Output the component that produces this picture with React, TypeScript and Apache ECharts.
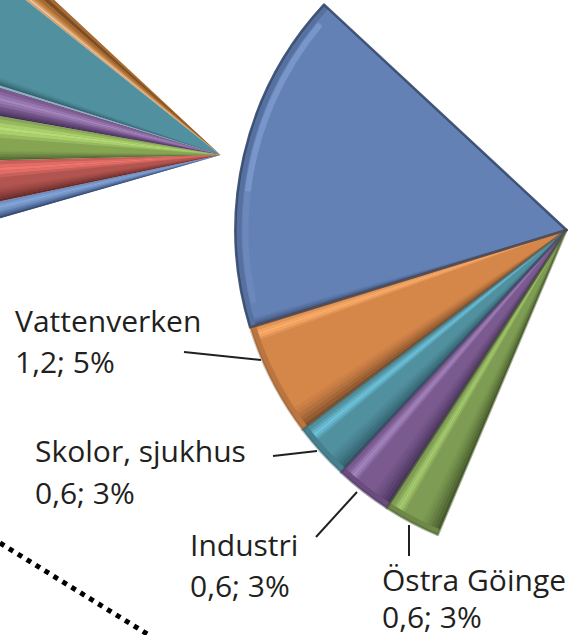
import React, { useEffect, useRef } from "react";
import * as echarts from "echarts";

// Values (the pies are cropped: "rest" is the part outside the picture)
const rightNames = ["Övrigt", "Vattenverken", "Skolor, sjukhus", "Industri", "Östra Göinge"];
const rightValues = [3.6, 1.2, 0.6, 0.6, 0.6];
const rightRest = 15.0;
const leftNames = ["a", "b", "c", "d", "e", "f"];
const leftValues = [0.27, 1.29, 0.42, 0.68, 0.63, 0.25];
const leftRest = 18.06;

const labelLines = [
  ["Vattenverken", "1,2; 5%"],
  ["Skolor, sjukhus", "0,6; 3%"],
  ["Industri", "0,6; 3%"],
  ["Östra Göinge", "0,6; 3%"],
];

const TOTAL = 21.6;
const UNIT = TOTAL / 360;
const TRANSPARENT = "rgba(0,0,0,0)";

type Band = { from: number; to: number; color: string; alpha: number };

// triangle-shaped highlight, in degrees from the wedge's start
function glow(from: number, to: number, color: string, peak: number, n = 5): Band[] {
  const w = (to - from) / n;
  const out: Band[] = [];
  for (let i = 0; i < n; i++) {
    const t = (i + 0.5) / n;
    out.push({ from: from + i * w, to: from + (i + 1) * w, color, alpha: peak * (1 - Math.abs(2 * t - 1)) + 0.15 * peak });
  }
  return out;
}
// ramp that grows towards the wedge's end
function ramp(from: number, to: number, color: string, peak: number, n = 6): Band[] {
  const w = (to - from) / n;
  const out: Band[] = [];
  for (let i = 0; i < n; i++) {
    const t = (i + 1) / n;
    out.push({ from: from + i * w, to: from + (i + 1) * w, color, alpha: peak * Math.pow(t, 1.4) });
  }
  return out;
}

function bandData(values: number[], bandsPerWedge: Band[][]) {
  const data: any[] = [];
  let used = 0;
  values.forEach((v, i) => {
    const deg = v / UNIT;
    let at = 0;
    for (const b of bandsPerWedge[i] || []) {
      if (b.from > at) data.push({ value: (b.from - at) * UNIT, itemStyle: { color: TRANSPARENT } });
      data.push({ value: (b.to - b.from) * UNIT, itemStyle: { color: b.color, opacity: b.alpha } });
      at = b.to;
    }
    if (deg > at) data.push({ value: (deg - at) * UNIT, itemStyle: { color: TRANSPARENT } });
    used += v;
  });
  data.push({ value: TOTAL - used, itemStyle: { color: TRANSPARENT } });
  return data;
}

function pie(center: number[], radius: any, startAngle: number, data: any[]) {
  return {
    type: "pie",
    center,
    radius,
    startAngle,
    clockwise: false,
    silent: true,
    avoidLabelOverlap: false,
    label: { show: false },
    labelLine: { show: false },
    emphasis: { disabled: true },
    data,
  };
}

const RC = [566.5, 230];
const RR = 331;
const RS = 137.1;
const LC = [220.5, 155];
const LR = 330;
const LS = 137;

const rightColors = ["#6481B5", "#D58649", "#51909F", "#7A5A8F", "#7E9C53"];
const rightLight = ["#88A8D8", "#FBAE6C", "#6CC3DC", "#A585BD", "#A5CC6E"];
const rightDark = ["#34486B", "#7E4F2B", "#2F5A66", "#46325A", "#46592C"];
const rightEdge = ["rgba(52,72,107,0.9)", "rgba(126,79,43,0.35)", "rgba(47,90,102,0.35)", "rgba(70,50,90,0.45)", "rgba(70,89,44,0.5)"];
const leftColors = ["#C5803F", "#51909F", "#7A5A8F", "#86A553", "#B2544F", "#6481B5"];
const leftLight = ["#E8C8A8", "#B8D8E0", "#A585BD", "#B5DC74", "#F0756E", "#88A8D8"];
const leftDark = ["#6E4420", "#2F5A66", "#3E2C52", "#4E5F30", "#632A28", "#34486B"];

function App() {
  const ref = useRef<HTMLDivElement>(null);
  useEffect(() => {
    document.body.style.margin = "0";
    const chart = echarts.init(ref.current!, undefined, { renderer: "svg" });

    const rightBase = [
      ...rightValues.map((v, i) => ({ name: rightNames[i], value: v, itemStyle: { color: rightColors[i] } })),
      { name: "rest", value: rightRest, itemStyle: { color: TRANSPARENT } },
    ];
    const leftBase = [
      ...leftValues.map((v, i) => ({ name: leftNames[i], value: v, itemStyle: { color: leftColors[i] } })),
      { name: "rest", value: leftRest, itemStyle: { color: TRANSPARENT } },
    ];
    const edgeData = [
      ...rightValues.map((v, i) => ({
        value: v,
        itemStyle: { color: TRANSPARENT, borderColor: rightEdge[i], borderWidth: 2.5 },
      })),
      { value: rightRest, itemStyle: { color: TRANSPARENT } },
    ];

    const rightWedgeBands: Band[][] = rightValues.map((v, i) => {
      const deg = v / UNIT;
      if (i === 0) return [...ramp(deg - 1.4, deg, rightDark[0], 0.8, 4)];
      const hi = i === 1 ? [0.4, 2.6] : [0.9, 3.0];
      const sh = i === 1 ? 4.0 : 3.4;
      return [...glow(hi[0], hi[1], rightLight[i], 1.0), ...ramp(deg - sh, deg, rightDark[i], 0.95)];
    });

    const leftWedgeBands: Band[][] = [
      [...glow(0, 2.6, leftDark[0], 0.75, 3), ...glow(3.2, 4.5, leftLight[0], 0.9, 3)],
      [...ramp(19.2, 21.0, leftDark[1], 0.85, 4), ...glow(21.0, 21.5, leftLight[1], 0.9, 2)],
      [...glow(1.0, 4.6, leftLight[2], 0.9), ...ramp(4.6, 7.0, leftDark[2], 0.95)],
      [...glow(0.8, 5.5, leftLight[3], 1.0), ...ramp(8.8, 11.33, leftDark[3], 0.95)],
      [...glow(0.2, 4.5, leftLight[4], 1.0), ...ramp(7.0, 10.5, leftDark[4], 0.95)],
      [...glow(0.1, 2.6, leftLight[5], 0.9), ...ramp(2.8, 4.16, leftDark[5], 0.95, 3)],
    ];

    const rimAlpha = [0.28, 0.3, 0.3, 0.3, 0.3];
    const rimData = rightValues.map((v, i) => ({ value: v, itemStyle: { color: rightDark[i], opacity: rimAlpha[i] } }));
    rimData.push({ value: rightRest, itemStyle: { color: TRANSPARENT, opacity: 1 } });

    const arcBands: Band[][] = [[{ from: 3, to: 36, color: rightLight[0], alpha: 0.55 }]];
    const arcBands2: Band[][] = [[{ from: 36, to: 56, color: rightLight[0], alpha: 0.18 }]];

    const texts: any[] = [];
    const spots = [
      [15, 332, 373],
      [35, 462, 504],
      [190, 556, 597],
      [382, 591, 628],
    ];
    labelLines.forEach((lines, i) => {
      lines.forEach((t, j) => {
        texts.push({
          type: "text",
          silent: true,
          x: spots[i][0],
          y: spots[i][j + 1] + 3,
          style: { text: t, fill: "#231F20", font: '30px "Open Sans"', textAlign: "left", verticalAlign: "bottom" },
        });
      });
    });
    const leaders = [
      [184, 352, 261, 360],
      [273, 456, 317, 451],
      [316, 537, 357, 492],
      [409, 525, 409, 556],
    ];
    leaders.forEach(([x1, y1, x2, y2]) =>
      texts.push({
        type: "line",
        silent: true,
        shape: { x1, y1, x2, y2 },
        style: { stroke: "#231F20", lineWidth: 2 },
      })
    );
    texts.push({
      type: "line",
      silent: true,
      shape: { x1: 0, y1: 543, x2: 152, y2: 637 },
      style: { stroke: "#000", lineWidth: 5, lineDash: [5, 5.5] },
    });

    chart.setOption({
      animation: false,
      backgroundColor: "#fff",
      series: [
        pie(LC, LR, LS, leftBase),
        pie(LC, LR, LS, bandData(leftValues, leftWedgeBands)),
        pie(RC, RR, RS, rightBase),
        pie(RC, [0, 325], RS, bandData(rightValues, rightWedgeBands)),
        pie(RC, [325, RR], RS, rimData),
        pie(RC, [318, 324], RS, bandData(rightValues, arcBands)),
        pie(RC, [318, 324], RS, bandData(rightValues, arcBands2)),
        pie(RC, RR, RS, edgeData),
      ],
      graphic: texts,
    });
    return () => chart.dispose();
  }, []);
  return <div ref={ref} style={{ width: 568, height: 635 }} />;
}

export default App;
